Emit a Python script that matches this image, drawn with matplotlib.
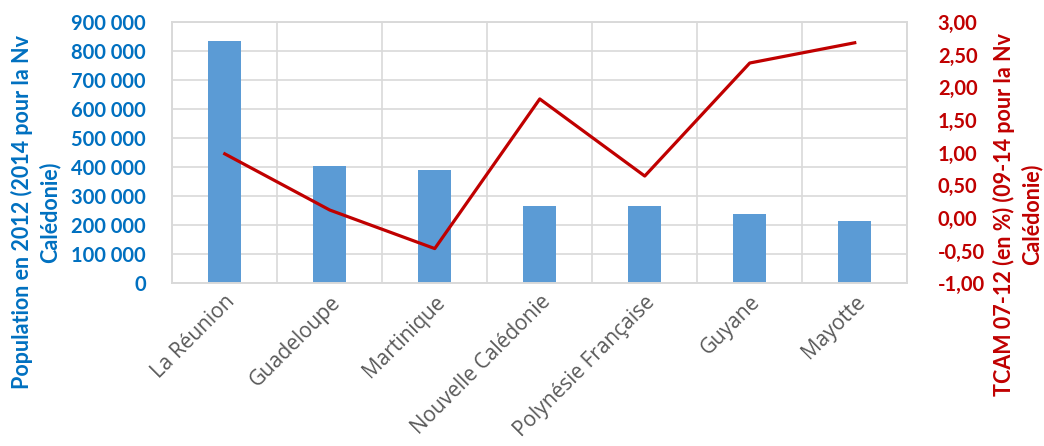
import numpy as np
import matplotlib
matplotlib.use("Agg")
from matplotlib import pyplot as plt
from matplotlib.ticker import FixedLocator, FuncFormatter

# Data
territoires = ["La Réunion", "Guadeloupe", "Martinique", "Nouvelle Calédonie",
               "Polynésie Française", "Guyane", "Mayotte"]
population = [832500, 403500, 388500, 267500, 267500, 239500, 213000]
tcam = [0.98, 0.12, -0.47, 1.82, 0.64, 2.37, 2.68]

pop_ticks = np.arange(0, 900001, 100000)
tcam_ticks = np.arange(-1.0, 3.01, 0.5)

blue = "#5B9BD5"
blue_txt = "#0070C0"
red = "#C00000"
grid_col = "#D9D9D9"

fig = plt.figure(figsize=(10.44, 4.46), dpi=100)
ax = fig.add_axes([0.165, 0.365, 0.704, 0.586])
ax2 = ax.twinx()

x = np.arange(len(territoires))
ax.bar(x, population, width=0.31, color=blue, zorder=2)
ax.set_xlim(-0.5, len(territoires) - 0.5)
ax.set_ylim(0, 900000)
ax.set_yticks(pop_ticks)
ax.yaxis.set_major_formatter(FuncFormatter(lambda v, p: f"{int(v):,}".replace(",", " ")))

ax.set_xticks(x)
ax.set_xticklabels(territoires, rotation=45, ha="right", rotation_mode="anchor",
                   fontfamily="Open Sans", fontsize=15, color="#595959")
ax.xaxis.set_minor_locator(FixedLocator(np.arange(-0.5, len(territoires), 1.0)))
ax.grid(True, axis="y", color=grid_col, lw=1.2, zorder=0)
ax.grid(True, axis="x", which="minor", color=grid_col, lw=1.2, zorder=0)
ax.set_axisbelow(True)
ax.tick_params(axis="x", which="both", length=0, pad=6)
ax.tick_params(axis="y", length=0, pad=19, labelcolor=blue_txt, labelsize=14.5)
for lab in ax.get_yticklabels():
    lab.set_fontfamily("Lato")
    lab.set_fontweight("bold")

ax2.plot(x, tcam, color=red, lw=2.3, zorder=3)
ax2.set_ylim(-1.0, 3.0)
ax2.set_yticks(tcam_ticks)
ax2.yaxis.set_major_formatter(FuncFormatter(lambda v, p: f"{v:.2f}".replace(".", ",")))
ax2.tick_params(axis="y", length=0, pad=22, labelcolor=red, labelsize=14.5)
for lab in ax2.get_yticklabels():
    lab.set_fontfamily("Lato")
    lab.set_fontweight("bold")

for a in (ax, ax2):
    for s in a.spines.values():
        s.set_color(grid_col)
        s.set_linewidth(1.2)

fig.text(0.034, 0.525, "Population en 2012 (2014 pour la Nv\nCalédonie)",
         rotation=90, ha="center", va="center", multialignment="center",
         linespacing=1.3, fontfamily="Lato", fontweight="bold", fontsize=15.5,
         color=blue_txt)
fig.text(0.975, 0.52, "TCAM 07-12 (en %) (09-14 pour la Nv\nCalédonie)",
         rotation=90, ha="center", va="center", multialignment="center",
         linespacing=1.3, fontfamily="Lato", fontweight="bold", fontsize=15.5,
         color=red)

fig.savefig("out.png", dpi=100)
